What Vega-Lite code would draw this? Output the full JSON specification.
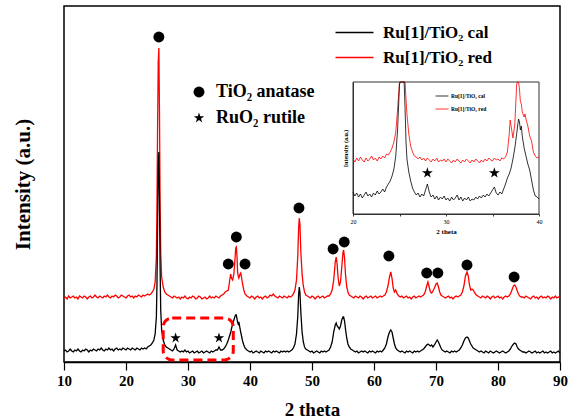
{
"$schema": "https://vega.github.io/schema/vega-lite/v6.json",
"width": 496, "height": 356,
"autosize": {"type": "none"},
"padding": {"left": 64, "top": 6, "right": 12, "bottom": 58},
"background": "white",
"config": {
 "view": {"stroke": "black", "strokeWidth": 1.5},
 "font": "Liberation Serif",
 "axis": {"labelFont": "Liberation Serif", "titleFont": "Liberation Serif", "labelColor": "black", "titleColor": "black", "domainColor": "black", "tickColor": "black", "grid": false},
 "legend": {"labelFont": "Liberation Serif", "labelFontWeight": "bold", "labelColor": "black", "padding": 0}
},
"datasets": {
 "main": [
{"t":10,"c":11,"r":64},{"t":10.25,"c":12,"r":65},{"t":10.5,"c":10,"r":63},{"t":10.75,"c":11,"r":66},{"t":11,"c":13,"r":64},{"t":11.25,"c":11,"r":65},{"t":11.5,"c":10,"r":66},{"t":11.75,"c":12,"r":64},{"t":12,"c":11,"r":65},{"t":12.25,"c":13,"r":63},{"t":12.5,"c":11,"r":66},{"t":12.75,"c":10,"r":65},{"t":13,"c":12,"r":64},{"t":13.25,"c":11,"r":66},{"t":13.5,"c":13,"r":65},{"t":13.75,"c":12,"r":63},{"t":14,"c":10,"r":65},{"t":14.25,"c":12,"r":66},{"t":14.5,"c":11,"r":64},{"t":14.75,"c":13,"r":65},{"t":15,"c":12,"r":67},{"t":15.25,"c":11,"r":65},{"t":15.5,"c":13,"r":64},{"t":15.75,"c":12,"r":66},{"t":16,"c":14,"r":65},{"t":16.25,"c":12,"r":64},{"t":16.5,"c":11,"r":66},{"t":16.75,"c":13,"r":65},{"t":17,"c":12,"r":67},{"t":17.25,"c":14,"r":65},{"t":17.5,"c":12,"r":64},{"t":17.75,"c":13,"r":66},{"t":18,"c":11,"r":65},{"t":18.25,"c":13,"r":67},{"t":18.5,"c":14,"r":66},{"t":18.75,"c":12,"r":64},{"t":19,"c":13,"r":65},{"t":19.25,"c":12,"r":67},{"t":19.5,"c":14,"r":66},{"t":19.75,"c":13,"r":65},{"t":20,"c":12,"r":64},{"t":20.25,"c":14,"r":66},{"t":20.5,"c":13,"r":67},{"t":20.75,"c":12,"r":65},{"t":21,"c":14,"r":66},{"t":21.25,"c":13,"r":64},{"t":21.5,"c":12,"r":66},{"t":21.75,"c":14,"r":65},{"t":22,"c":13,"r":67},{"t":22.25,"c":12,"r":66},{"t":22.5,"c":14,"r":65},{"t":22.75,"c":13,"r":67},{"t":23,"c":14,"r":66},{"t":23.25,"c":13,"r":67},{"t":23.5,"c":15,"r":68},
{"t":23.75,"c":16,"r":67},{"t":24,"c":17,"r":68},{"t":24.25,"c":19,"r":70},{"t":24.5,"c":22,"r":73},{"t":24.7,"c":28,"r":80},{"t":24.9,"c":45,"r":105},{"t":25.0,"c":80,"r":160},{"t":25.1,"c":140,"r":240},{"t":25.2,"c":195,"r":300},{"t":25.3,"c":210,"r":314},{"t":25.4,"c":165,"r":250},{"t":25.5,"c":95,"r":160},{"t":25.6,"c":52,"r":110},{"t":25.75,"c":32,"r":85},{"t":26,"c":22,"r":75},{"t":26.25,"c":17,"r":70},{"t":26.5,"c":15,"r":68},{"t":26.75,"c":14,"r":67},{"t":27,"c":13,"r":66},
{"t":27.25,"c":12,"r":65},{"t":27.5,"c":11,"r":64},{"t":27.75,"c":13,"r":66},{"t":28,"c":17,"r":65},{"t":28.25,"c":12,"r":64},{"t":28.5,"c":11,"r":65},{"t":28.75,"c":10,"r":63},{"t":29,"c":11,"r":65},{"t":29.25,"c":10,"r":64},{"t":29.5,"c":12,"r":66},{"t":29.75,"c":10,"r":64},{"t":30,"c":11,"r":63},{"t":30.25,"c":9,"r":65},{"t":30.5,"c":10,"r":64},{"t":30.75,"c":11,"r":66},{"t":31,"c":9,"r":65},{"t":31.25,"c":10,"r":63},{"t":31.5,"c":11,"r":64},{"t":31.75,"c":9,"r":66},{"t":32,"c":10,"r":65},{"t":32.25,"c":11,"r":63},{"t":32.5,"c":9,"r":64},{"t":32.75,"c":10,"r":65},{"t":33,"c":11,"r":63},{"t":33.25,"c":10,"r":64},{"t":33.5,"c":9,"r":66},{"t":33.75,"c":11,"r":64},{"t":34,"c":10,"r":65},{"t":34.25,"c":11,"r":64},{"t":34.5,"c":12,"r":66},{"t":34.75,"c":12,"r":65},{"t":35,"c":15,"r":64},{"t":35.25,"c":12,"r":66},{"t":35.5,"c":12,"r":67},{"t":35.75,"c":13,"r":68},{"t":36,"c":15,"r":70},{"t":36.25,"c":18,"r":71},{"t":36.5,"c":22,"r":72},
{"t":36.6,"c":24,"r":76},{"t":36.8,"c":28,"r":85},{"t":36.9,"c":30,"r":88},{"t":37.0,"c":33,"r":84},{"t":37.2,"c":38,"r":82},{"t":37.4,"c":42,"r":88},{"t":37.6,"c":46,"r":105},{"t":37.7,"c":47,"r":114},{"t":37.8,"c":47,"r":115},{"t":37.9,"c":43,"r":106},{"t":38.0,"c":40,"r":90},{"t":38.1,"c":38,"r":86},{"t":38.2,"c":40,"r":84},{"t":38.3,"c":37,"r":86},{"t":38.4,"c":33,"r":88},{"t":38.5,"c":30,"r":89},{"t":38.6,"c":27,"r":86},{"t":38.8,"c":21,"r":78},{"t":39.0,"c":17,"r":72},{"t":39.2,"c":14,"r":68},{"t":39.5,"c":12,"r":66},
{"t":39.75,"c":11,"r":65},{"t":40,"c":10,"r":64},{"t":40.25,"c":11,"r":66},{"t":40.5,"c":9,"r":65},{"t":40.75,"c":10,"r":63},{"t":41,"c":11,"r":65},{"t":41.25,"c":10,"r":66},{"t":41.5,"c":9,"r":64},{"t":41.75,"c":11,"r":65},{"t":42,"c":10,"r":63},{"t":42.25,"c":9,"r":65},{"t":42.5,"c":11,"r":66},{"t":42.75,"c":10,"r":64},{"t":43,"c":11,"r":65},{"t":43.25,"c":10,"r":67},{"t":43.5,"c":9,"r":66},{"t":43.75,"c":11,"r":68},{"t":44,"c":10,"r":66},{"t":44.25,"c":11,"r":65},{"t":44.5,"c":10,"r":64},{"t":44.75,"c":9,"r":66},{"t":45,"c":11,"r":65},{"t":45.25,"c":10,"r":64},{"t":45.5,"c":11,"r":66},{"t":45.75,"c":10,"r":65},{"t":46,"c":11,"r":64},{"t":46.25,"c":10,"r":66},{"t":46.5,"c":11,"r":65},
{"t":46.75,"c":12,"r":66},{"t":47,"c":14,"r":68},{"t":47.25,"c":18,"r":72},{"t":47.5,"c":28,"r":82},{"t":47.7,"c":45,"r":105},{"t":47.85,"c":68,"r":135},{"t":47.95,"c":75,"r":144},{"t":48.05,"c":70,"r":138},{"t":48.2,"c":50,"r":110},{"t":48.4,"c":30,"r":88},{"t":48.6,"c":20,"r":76},{"t":48.8,"c":15,"r":70},{"t":49,"c":13,"r":67},{"t":49.25,"c":12,"r":66},
{"t":49.5,"c":11,"r":65},{"t":49.75,"c":10,"r":64},{"t":50,"c":11,"r":66},{"t":50.25,"c":9,"r":65},{"t":50.5,"c":10,"r":63},{"t":50.75,"c":11,"r":65},{"t":51,"c":10,"r":66},{"t":51.25,"c":9,"r":64},{"t":51.5,"c":11,"r":65},{"t":51.75,"c":10,"r":66},{"t":52,"c":11,"r":64},{"t":52.25,"c":10,"r":65},{"t":52.5,"c":11,"r":66},
{"t":52.75,"c":12,"r":66},{"t":53,"c":15,"r":68},{"t":53.25,"c":20,"r":72},{"t":53.5,"c":30,"r":82},{"t":53.75,"c":37,"r":100},{"t":53.9,"c":39,"r":105},{"t":54.05,"c":36,"r":98},{"t":54.2,"c":35,"r":85},{"t":54.4,"c":33,"r":76},{"t":54.6,"c":36,"r":80},{"t":54.8,"c":42,"r":95},{"t":55.0,"c":45,"r":110},{"t":55.1,"c":45,"r":112},{"t":55.25,"c":41,"r":104},{"t":55.4,"c":33,"r":88},{"t":55.6,"c":24,"r":75},{"t":55.8,"c":18,"r":70},{"t":56,"c":15,"r":67},{"t":56.25,"c":13,"r":66},{"t":56.5,"c":12,"r":65},
{"t":56.75,"c":11,"r":64},{"t":57,"c":10,"r":66},{"t":57.25,"c":11,"r":65},{"t":57.5,"c":9,"r":64},{"t":57.75,"c":10,"r":66},{"t":58,"c":11,"r":65},{"t":58.25,"c":10,"r":63},{"t":58.5,"c":11,"r":65},{"t":58.75,"c":10,"r":66},{"t":59,"c":9,"r":64},{"t":59.25,"c":11,"r":65},{"t":59.5,"c":10,"r":66},{"t":59.75,"c":11,"r":64},{"t":60,"c":10,"r":65},{"t":60.25,"c":9,"r":66},{"t":60.5,"c":11,"r":64},{"t":60.75,"c":10,"r":65},{"t":61,"c":11,"r":66},{"t":61.25,"c":10,"r":65},
{"t":61.5,"c":12,"r":66},{"t":61.75,"c":14,"r":67},{"t":62,"c":18,"r":70},{"t":62.25,"c":25,"r":76},{"t":62.5,"c":30,"r":85},{"t":62.7,"c":32,"r":90},{"t":62.9,"c":30,"r":84},{"t":63.1,"c":24,"r":74},{"t":63.3,"c":18,"r":70},{"t":63.5,"c":14,"r":72},{"t":63.75,"c":12,"r":68},{"t":64,"c":11,"r":66},
{"t":64.25,"c":10,"r":65},{"t":64.5,"c":11,"r":66},{"t":64.75,"c":10,"r":64},{"t":65,"c":9,"r":65},{"t":65.25,"c":11,"r":66},{"t":65.5,"c":10,"r":64},{"t":65.75,"c":11,"r":65},{"t":66,"c":10,"r":63},{"t":66.25,"c":9,"r":65},{"t":66.5,"c":11,"r":66},{"t":66.75,"c":10,"r":64},{"t":67,"c":11,"r":65},{"t":67.25,"c":10,"r":66},
{"t":67.5,"c":11,"r":65},{"t":67.75,"c":12,"r":66},{"t":68,"c":13,"r":67},{"t":68.25,"c":15,"r":70},{"t":68.5,"c":17,"r":76},{"t":68.7,"c":18,"r":80},{"t":68.9,"c":17,"r":75},{"t":69.1,"c":16,"r":70},{"t":69.3,"c":17,"r":69},{"t":69.5,"c":15,"r":71},{"t":69.75,"c":17,"r":74},{"t":70,"c":20,"r":78},{"t":70.2,"c":22,"r":79},{"t":70.4,"c":20,"r":75},{"t":70.6,"c":17,"r":70},{"t":70.8,"c":14,"r":67},{"t":71,"c":12,"r":66},{"t":71.25,"c":11,"r":65},
{"t":71.5,"c":10,"r":64},{"t":71.75,"c":11,"r":65},{"t":72,"c":10,"r":66},{"t":72.25,"c":9,"r":64},{"t":72.5,"c":11,"r":65},{"t":72.75,"c":10,"r":63},{"t":73,"c":11,"r":65},{"t":73.25,"c":10,"r":66},
{"t":73.5,"c":11,"r":65},{"t":73.75,"c":12,"r":66},{"t":74,"c":14,"r":67},{"t":74.25,"c":17,"r":70},{"t":74.5,"c":21,"r":76},{"t":74.75,"c":24,"r":86},{"t":75,"c":25,"r":90},{"t":75.2,"c":24,"r":86},{"t":75.4,"c":21,"r":77},{"t":75.6,"c":18,"r":72},{"t":75.8,"c":16,"r":73},{"t":76,"c":14,"r":72},{"t":76.25,"c":13,"r":69},{"t":76.5,"c":12,"r":67},{"t":76.75,"c":11,"r":66},
{"t":77,"c":10,"r":65},{"t":77.25,"c":11,"r":64},{"t":77.5,"c":10,"r":66},{"t":77.75,"c":9,"r":65},{"t":78,"c":11,"r":64},{"t":78.25,"c":10,"r":66},{"t":78.5,"c":9,"r":65},{"t":78.75,"c":11,"r":63},{"t":79,"c":10,"r":65},{"t":79.25,"c":9,"r":66},{"t":79.5,"c":10,"r":64},{"t":79.75,"c":11,"r":65},{"t":80,"c":10,"r":66},{"t":80.25,"c":9,"r":64},{"t":80.5,"c":10,"r":65},{"t":80.75,"c":11,"r":63},{"t":81,"c":10,"r":65},{"t":81.25,"c":9,"r":66},
{"t":81.5,"c":10,"r":65},{"t":81.75,"c":11,"r":66},{"t":82,"c":13,"r":68},{"t":82.25,"c":16,"r":72},{"t":82.5,"c":18,"r":76},{"t":82.7,"c":19,"r":77},{"t":82.9,"c":18,"r":75},{"t":83.1,"c":15,"r":71},{"t":83.3,"c":13,"r":68},{"t":83.5,"c":12,"r":66},{"t":83.75,"c":11,"r":65},{"t":84,"c":10,"r":65},
{"t":84.25,"c":10,"r":64},{"t":84.5,"c":9,"r":66},{"t":84.75,"c":10,"r":65},{"t":85,"c":11,"r":64},{"t":85.25,"c":10,"r":63},{"t":85.5,"c":9,"r":65},{"t":85.75,"c":10,"r":66},{"t":86,"c":11,"r":64},{"t":86.25,"c":9,"r":65},{"t":86.5,"c":10,"r":63},{"t":86.75,"c":9,"r":65},{"t":87,"c":10,"r":66},{"t":87.25,"c":11,"r":64},{"t":87.5,"c":9,"r":65},{"t":87.75,"c":10,"r":64},{"t":88,"c":9,"r":66},{"t":88.25,"c":10,"r":65},{"t":88.5,"c":11,"r":63},{"t":88.75,"c":9,"r":65},{"t":89,"c":10,"r":64},{"t":89.25,"c":9,"r":66},{"t":89.5,"c":10,"r":64},{"t":89.75,"c":11,"r":65},{"t":90,"c":9,"r":64}
 ],
 "inset": [
{"t":20.0,"c":22,"r":55},{"t":20.2,"c":18,"r":52},{"t":20.4,"c":21,"r":56},{"t":20.6,"c":17,"r":53},{"t":20.8,"c":20,"r":57},{"t":21.0,"c":16,"r":54},{"t":21.2,"c":19,"r":52},{"t":21.4,"c":22,"r":56},{"t":21.6,"c":18,"r":53},{"t":21.8,"c":20,"r":55},{"t":22.0,"c":17,"r":58},{"t":22.2,"c":21,"r":54},{"t":22.4,"c":19,"r":56},{"t":22.6,"c":23,"r":53},{"t":22.8,"c":20,"r":57},{"t":23.0,"c":22,"r":55},{"t":23.2,"c":25,"r":58},{"t":23.4,"c":22,"r":56},{"t":23.6,"c":27,"r":60},{"t":23.8,"c":30,"r":59},{"t":24.0,"c":33,"r":62},{"t":24.2,"c":38,"r":66},{"t":24.4,"c":45,"r":72},{"t":24.6,"c":58,"r":82},{"t":24.8,"c":85,"r":105},{"t":25.0,"c":130,"r":150},{"t":25.1,"c":170,"r":200},{"t":25.2,"c":200,"r":240},{"t":25.3,"c":210,"r":250},{"t":25.4,"c":190,"r":230},{"t":25.5,"c":150,"r":190},{"t":25.6,"c":105,"r":150},{"t":25.7,"c":72,"r":115},{"t":25.8,"c":55,"r":100},{"t":26.0,"c":42,"r":80},{"t":26.2,"c":33,"r":68},{"t":26.4,"c":26,"r":62},{"t":26.6,"c":22,"r":58},{"t":26.8,"c":19,"r":57},{"t":27.0,"c":21,"r":55},{"t":27.2,"c":17,"r":57},{"t":27.4,"c":20,"r":54},{"t":27.6,"c":18,"r":56},{"t":27.8,"c":24,"r":53},{"t":28.0,"c":30,"r":56},{"t":28.2,"c":22,"r":54},{"t":28.4,"c":17,"r":52},{"t":28.6,"c":19,"r":55},{"t":28.8,"c":15,"r":53},{"t":29.0,"c":18,"r":56},{"t":29.2,"c":14,"r":52},{"t":29.4,"c":17,"r":54},{"t":29.6,"c":15,"r":53},{"t":29.8,"c":18,"r":55},{"t":30.0,"c":14,"r":52},{"t":30.2,"c":16,"r":55},{"t":30.4,"c":13,"r":53},{"t":30.6,"c":17,"r":51},{"t":30.8,"c":14,"r":54},{"t":31.0,"c":16,"r":52},{"t":31.2,"c":19,"r":55},{"t":31.4,"c":14,"r":53},{"t":31.6,"c":17,"r":51},{"t":31.8,"c":13,"r":54},{"t":32.0,"c":16,"r":52},{"t":32.2,"c":14,"r":55},{"t":32.4,"c":17,"r":53},{"t":32.6,"c":13,"r":51},{"t":32.8,"c":15,"r":54},{"t":33.0,"c":14,"r":52},{"t":33.2,"c":17,"r":55},{"t":33.4,"c":15,"r":53},{"t":33.6,"c":18,"r":51},{"t":33.8,"c":16,"r":54},{"t":34.0,"c":19,"r":52},{"t":34.2,"c":17,"r":55},{"t":34.4,"c":20,"r":53},{"t":34.6,"c":18,"r":56},{"t":34.8,"c":21,"r":54},{"t":35.0,"c":24,"r":53},{"t":35.2,"c":27,"r":56},{"t":35.4,"c":21,"r":54},{"t":35.6,"c":19,"r":55},{"t":35.8,"c":22,"r":53},{"t":36.0,"c":20,"r":56},{"t":36.2,"c":25,"r":55},{"t":36.4,"c":30,"r":57},{"t":36.6,"c":36,"r":62},{"t":36.8,"c":40,"r":80},{"t":36.9,"c":43,"r":94},{"t":37.0,"c":46,"r":88},{"t":37.2,"c":55,"r":76},{"t":37.4,"c":66,"r":90},{"t":37.6,"c":80,"r":130},{"t":37.7,"c":88,"r":150},{"t":37.8,"c":95,"r":145},{"t":37.9,"c":92,"r":125},{"t":38.0,"c":84,"r":112},{"t":38.1,"c":88,"r":110},{"t":38.2,"c":78,"r":102},{"t":38.4,"c":66,"r":97},{"t":38.5,"c":62,"r":100},{"t":38.6,"c":58,"r":95},{"t":38.8,"c":50,"r":88},{"t":39.0,"c":44,"r":78},{"t":39.2,"c":34,"r":73},{"t":39.4,"c":24,"r":62},{"t":39.6,"c":18,"r":58},{"t":39.8,"c":17,"r":56},{"t":40.0,"c":15,"r":57}
 ],
 "marks": [
{"t":25.3,"y":325,"phase":"TiO₂ anatase"},{"t":37.8,"y":125,"phase":"TiO₂ anatase"},{"t":36.5,"y":98,"phase":"TiO₂ anatase"},{"t":39.2,"y":98,"phase":"TiO₂ anatase"},{"t":47.9,"y":154,"phase":"TiO₂ anatase"},{"t":53.4,"y":113,"phase":"TiO₂ anatase"},{"t":55.2,"y":120,"phase":"TiO₂ anatase"},{"t":62.4,"y":106,"phase":"TiO₂ anatase"},{"t":68.5,"y":89,"phase":"TiO₂ anatase"},{"t":70.3,"y":89,"phase":"TiO₂ anatase"},{"t":75.0,"y":97,"phase":"TiO₂ anatase"},{"t":82.6,"y":85,"phase":"TiO₂ anatase"},
{"t":28.0,"y":24,"phase":"RuO₂ rutile"},{"t":35.0,"y":24,"phase":"RuO₂ rutile"}
 ],
 "istars": [{"t":28.0,"y":41},{"t":35.2,"y":41}],
 "dash": [{"x0":26.0,"x1":37.3,"y0":2,"y1":44}],
 "ibox": [{"x0":20,"x1":40,"y0":0,"y1":132}]
},
"resolve": {"scale": {"x": "independent", "y": "independent", "color": "independent"}},
"layer": [
 {
  "layer": [
   {"data": {"name": "main"}, "mark": {"type": "line", "strokeWidth": 1.3},
    "encoding": {
     "x": {"field": "t", "type": "quantitative", "scale": {"domain": [10, 90], "nice": false, "zero": false},
       "axis": {"title": "2 theta", "values": [10,15,20,25,30,35,40,45,50,55,60,65,70,75,80,85,90], "labelExpr": "datum.value % 10 === 0 ? datum.label : ''", "labelFontSize": 15, "labelFontWeight": "bold", "titleFontSize": 19, "titleFontWeight": "bold", "tickSize": {"condition": {"test": "datum.value % 10 === 0", "value": 8}, "value": 4}, "tickWidth": 1.2, "domainWidth": 1.5, "labelPadding": 3, "titlePadding": 12, "labelFlush": false, "labelOverlap": false}},
     "y": {"field": "r", "type": "quantitative", "scale": {"domain": [0, 356], "nice": false, "zero": false},
       "axis": {"title": "Intensity (a.u.)", "titleFontSize": 21, "titleFontWeight": "bold", "labels": false, "ticks": false, "domain": false, "titlePadding": 31}},
     "color": {"datum": "Ru[1]/TiO₂ red", "type": "nominal", "scale": {"domain": ["Ru[1]/TiO₂ cal", "Ru[1]/TiO₂ red"], "range": ["black", "#ff0000"]},
       "legend": {"orient": "none", "legendX": 268, "legendY": 18, "title": null, "symbolType": "M-1,0H6.6", "symbolSize": 100, "symbolStrokeWidth": 1.5, "labelFontSize": 17, "labelOffset": 34, "rowPadding": 7}}
    }},
   {"data": {"name": "main"}, "mark": {"type": "line", "strokeWidth": 1.3},
    "encoding": {
     "x": {"field": "t", "type": "quantitative"},
     "y": {"field": "c", "type": "quantitative"},
     "color": {"datum": "Ru[1]/TiO₂ cal", "type": "nominal"}
    }},
   {"data": {"name": "dash"}, "mark": {"type": "rect", "fillOpacity": 0, "stroke": "#ff0000", "strokeWidth": 3, "strokeDash": [9, 5], "cornerRadius": 9},
    "encoding": {
     "x": {"field": "x0", "type": "quantitative"}, "x2": {"field": "x1"},
     "y": {"field": "y0", "type": "quantitative"}, "y2": {"field": "y1"}
    }},
   {"data": {"name": "marks"}, "mark": {"type": "point", "filled": true, "color": "black", "opacity": 1, "size": 120},
    "encoding": {
     "x": {"field": "t", "type": "quantitative"},
     "y": {"field": "y", "type": "quantitative"},
     "shape": {"field": "phase", "type": "nominal",
       "scale": {"domain": ["TiO₂ anatase", "RuO₂ rutile"], "range": ["circle", "M0,-1L0.225,-0.309L0.951,-0.309L0.363,0.118L0.588,0.809L0,0.382L-0.588,0.809L-0.363,0.118L-0.951,-0.309L-0.225,-0.309Z"]},
       "legend": {"orient": "none", "legendX": 126, "legendY": 77, "title": null, "symbolSize": 120, "symbolFillColor": "black", "symbolStrokeWidth": 0, "labelFontSize": 18, "labelOffset": 8, "rowPadding": 8}}
    }}
  ]
 },
 {
  "layer": [
   {"data": {"name": "ibox"}, "mark": {"type": "rect", "fillOpacity": 0, "stroke": "#333333", "strokeWidth": 1},
    "encoding": {
     "x": {"field": "x0", "type": "quantitative", "scale": {"domain": [20, 40], "range": [289, 475], "nice": false, "zero": false},
       "axis": {"orient": "bottom", "offset": -148, "title": "2 theta", "values": [20,25,30,35,40], "labelExpr": "datum.value % 10 === 0 ? datum.label : ''", "labelFontSize": 6, "titleFontSize": 7, "titleFontWeight": "bold", "tickSize": 2, "tickWidth": 0.8, "domainWidth": 0.8, "labelPadding": 2, "titlePadding": 3, "labelFlush": false}},
     "x2": {"field": "x1"},
     "y": {"field": "y0", "type": "quantitative", "scale": {"domain": [0, 132], "range": [208, 76], "nice": false, "zero": false, "clamp": true},
       "axis": {"orient": "left", "offset": -289, "title": "Intensity (a.u.)", "titleFontSize": 6, "titleFontWeight": "bold", "labels": false, "ticks": false, "domainWidth": 0.8, "titlePadding": 5}},
     "y2": {"field": "y1"}
    }},
   {"data": {"name": "inset"}, "mark": {"type": "line", "strokeWidth": 0.8},
    "encoding": {
     "x": {"field": "t", "type": "quantitative"},
     "y": {"field": "r", "type": "quantitative"},
     "color": {"datum": "Ru[1]/TiO₂ red", "type": "nominal", "scale": {"domain": ["Ru[1]/TiO₂ cal", "Ru[1]/TiO₂ red"], "range": ["black", "#ff0000"]},
       "legend": {"orient": "none", "legendX": 371, "legendY": 83, "title": null, "symbolType": "stroke", "symbolSize": 169, "symbolStrokeWidth": 0.8, "labelFontSize": 5.5, "labelOffset": 2}}
    }},
   {"data": {"name": "inset"}, "mark": {"type": "line", "strokeWidth": 0.8},
    "encoding": {
     "x": {"field": "t", "type": "quantitative"},
     "y": {"field": "c", "type": "quantitative"},
     "color": {"datum": "Ru[1]/TiO₂ cal", "type": "nominal"}
    }},
   {"data": {"name": "istars"}, "mark": {"type": "point", "filled": true, "color": "black", "opacity": 1, "size": 130, "shape": "M0,-1L0.225,-0.309L0.951,-0.309L0.363,0.118L0.588,0.809L0,0.382L-0.588,0.809L-0.363,0.118L-0.951,-0.309L-0.225,-0.309Z"},
    "encoding": {
     "x": {"field": "t", "type": "quantitative"},
     "y": {"field": "y", "type": "quantitative"}
    }}
  ]
 }
]
}
